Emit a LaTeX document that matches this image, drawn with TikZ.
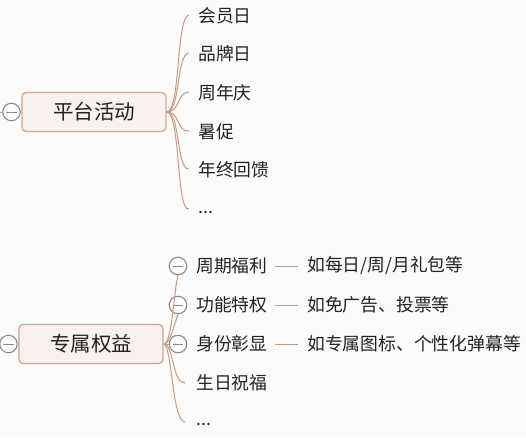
\documentclass[tikz,border=0pt]{standalone}
\usepackage{fontspec}
\usetikzlibrary{calc}
\setmainfont{Noto Sans CJK SC}
\definecolor{bg}{HTML}{FBFBFB}
\definecolor{ln}{HTML}{C99B7E}
\definecolor{boxfill}{HTML}{F8F1EE}
\definecolor{boxdraw}{HTML}{D4A689}
\definecolor{txt}{HTML}{222222}
\definecolor{cgray}{HTML}{8A8A8A}
\begin{document}
\begin{tikzpicture}[x=1pt,y=-1pt,
  rootbox/.style={draw=boxdraw,fill=boxfill,line width=1.3pt,rounded corners=4pt,minimum width=144pt,minimum height=39pt,inner sep=0pt,text=txt,font=\fontsize{20.5}{22}\selectfont},
  leaf/.style={anchor=west,inner sep=0pt,text=txt,font=\fontsize{17.8}{19}\selectfont},
  toggle/.style={circle,draw=cgray,line width=1.1pt,fill=white,minimum size=17.5pt,inner sep=0pt,
    path picture={\draw[cgray,line width=0.9pt] ([xshift=3.5pt]path picture bounding box.west) -- ([xshift=-3.5pt]path picture bounding box.east);}},
  conn/.style={draw=ln,line width=1pt}
]
\fill[bg] (0,0) rectangle (526,437);
\useasboundingbox (0,0) rectangle (526,437);

% ---- group 1
\node[rootbox] (r1) at (94,112) {平台活动};
\coordinate (s1) at (0,112);
\draw[conn] (s1) -- (3,112);
\node[toggle] (t1) at (11.5,112) {};
\node[leaf] (a1) at (198,16) {会员日};
\node[leaf] (a2) at (198,54) {品牌日};
\node[leaf] (a3) at (198,93) {周年庆};
\node[leaf] (a4) at (198,132) {暑促};
\node[leaf] (a5) at (198,170) {年终回馈};
\node[leaf] (a6) at (198,212) {...};
\foreach \n in {a1,a2,a3,a4,a5}{
  \draw[conn] (r1.east) .. controls ($(r1.east)+(14,0)$) and ($(\n.west)+(-22,0)$) .. ($(\n.west)+(-9,-1)$);
}
\draw[conn] (r1.east) .. controls ($(r1.east)+(14,0)$) and ($(a6.west)+(-22,0)$) .. ($(a6.west)+(-9,-3)$);

% ---- group 2
\node[rootbox] (r2) at (91,344) {专属权益};
\node[toggle] (t2) at (8.5,344) {};
\node[toggle] (c1) at (178,266) {};
\node[toggle] (c2) at (178,305) {};
\node[toggle] (c3) at (178,344) {};
\node[leaf] (b1) at (196,266) {周期福利};
\node[leaf] (b2) at (196,305) {功能特权};
\node[leaf] (b3) at (196,344) {身份彰显};
\node[leaf] (b4) at (196,383) {生日祝福};
\node[leaf] (b5) at (196,424) {...};
\draw[conn] (r2.east) .. controls (172,344) and (174,290) .. (c1.south);
\draw[conn] (r2.east) .. controls (170,344) and (174,325) .. (c2.south);
\draw[conn] (r2.east) -- (c3.west);
\draw[conn] (r2.east) .. controls (174,344) and (172,383) .. ($(b4.west)+(-11,0)$);
\draw[conn] (r2.east) .. controls (172,344) and (172,422) .. ($(b5.west)+(-11,-2)$);

\node[leaf] (d1) at (307,266) {如每日/周/月礼包等};
\node[leaf] (d2) at (307,305) {如免广告、投票等};
\node[leaf] (d3) at (307,344) {如专属图标、个性化弹幕等};
\draw[conn] ($(b1.east)+(7,0)$) -- ($(d1.west)+(-9,0)$);
\draw[conn] ($(b2.east)+(7,0)$) -- ($(d2.west)+(-9,0)$);
\draw[conn] ($(b3.east)+(7,0)$) -- ($(d3.west)+(-9,0)$);
\end{tikzpicture}
\end{document}
